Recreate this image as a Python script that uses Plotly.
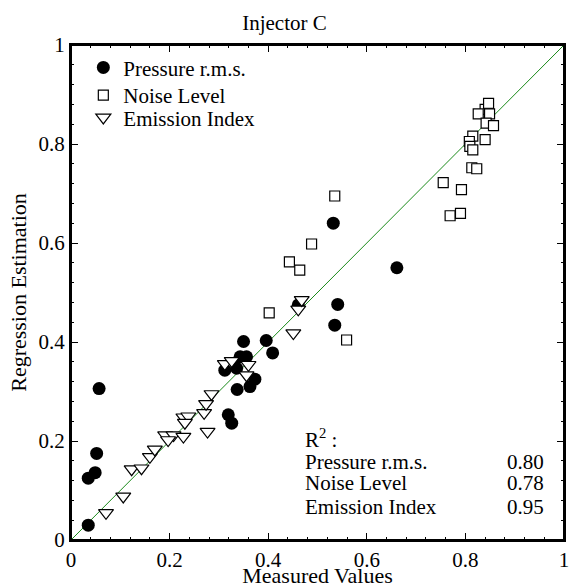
import plotly.graph_objects as go

# Pressure r.m.s. (filled circles)
pr_x = [0.035, 0.035, 0.049, 0.052, 0.057, 0.350, 0.396, 0.409, 0.343, 0.356, 0.312, 0.336,
        0.373, 0.363, 0.337, 0.319, 0.326, 0.532, 0.661, 0.541, 0.535, 0.461]
pr_y = [0.030, 0.125, 0.136, 0.175, 0.306, 0.401, 0.403, 0.378, 0.370, 0.370, 0.343, 0.347,
        0.325, 0.310, 0.304, 0.253, 0.236, 0.640, 0.550, 0.476, 0.434, 0.475]

# Noise Level (open squares)
nl_x = [0.535, 0.488, 0.443, 0.464, 0.559, 0.402,
        0.840, 0.847, 0.826, 0.849, 0.842, 0.857, 0.815, 0.808, 0.809, 0.815, 0.840,
        0.813, 0.823, 0.755, 0.792, 0.769, 0.790]
nl_y = [0.695, 0.598, 0.562, 0.545, 0.404, 0.459,
        0.870, 0.882, 0.861, 0.861, 0.842, 0.837, 0.816, 0.805, 0.795, 0.788, 0.809,
        0.752, 0.750, 0.722, 0.708, 0.655, 0.660]

# Emission Index (open triangles)
ei_x = [0.071, 0.106, 0.123, 0.143, 0.160, 0.170, 0.191, 0.208, 0.228, 0.197,
        0.228, 0.238, 0.231, 0.277, 0.270, 0.274, 0.285, 0.312, 0.326, 0.360,
        0.356, 0.451, 0.461, 0.468]
ei_y = [0.055, 0.088, 0.143, 0.145, 0.168, 0.183, 0.212, 0.212, 0.209, 0.202,
        0.248, 0.250, 0.237, 0.219, 0.257, 0.275, 0.295, 0.356, 0.362, 0.354,
        0.333, 0.418, 0.466, 0.485]

tick_vals = [0, 0.2, 0.4, 0.6, 0.8, 1]
tick_text = ["0", "0.2", "0.4", "0.6", "0.8", "1"]

r2_names = ["Pressure r.m.s.", "Noise Level", "Emission Index"]
r2_vals = ["0.80", "0.78", "0.95"]

FONT = "Liberation Serif, Times New Roman, serif"

fig = go.Figure()
fig.add_trace(go.Scatter(x=[0, 1], y=[0, 1], mode="lines",
                         line=dict(color="#1a8a1a", width=1), showlegend=False, hoverinfo="skip"))
fig.add_trace(go.Scatter(x=pr_x, y=pr_y, mode="markers", name="Pressure r.m.s.", legend="legend",
                         marker=dict(symbol="circle", size=13, color="black",
                                     line=dict(color="black", width=0))))
fig.add_trace(go.Scatter(x=nl_x, y=nl_y, mode="markers", name="Noise Level", legend="legend2",
                         marker=dict(symbol="square", size=10, color="white",
                                     line=dict(color="black", width=1.2))))
fig.add_trace(go.Scatter(x=ei_x, y=ei_y, mode="markers", name="Emission Index", legend="legend3",
                         marker=dict(symbol="triangle-down", size=13, color="white",
                                     line=dict(color="black", width=1.2))))

axis_common = dict(range=[0, 1], tickmode="array", tickvals=tick_vals, ticktext=tick_text,
                   ticks="inside", ticklen=7, tickwidth=1,
                   tickcolor="black", showline=True, linecolor="black", linewidth=2,
                   mirror="ticks", showgrid=False, zeroline=False, automargin=False,
                   ticklabeloverflow="allow",
                   tickfont=dict(size=21, color="black", family=FONT),
                   minor=dict(tickmode="linear", tick0=0, dtick=0.04, ticks="inside", ticklen=3,
                              tickcolor="black", showgrid=False))

fig.update_xaxes(**axis_common,
                 title=dict(text="Measured Values", font=dict(size=22, family=FONT, color="black"), standoff=2))
fig.update_yaxes(**axis_common,
                 title=dict(text="Regression Estimation", font=dict(size=22, family=FONT, color="black"), standoff=6))

annotations = [dict(x=0.47, y=0.206, xref="x", yref="y", text="R<sup>2</sup> :", showarrow=False,
                    xanchor="left", yanchor="middle", font=dict(size=21, family=FONT, color="black"))]
ys = [0.158, 0.115, 0.067]
for n, v, yy in zip(r2_names, r2_vals, ys):
    annotations.append(dict(x=0.47, y=yy, xref="x", yref="y", text=n, showarrow=False,
                            xanchor="left", yanchor="middle", font=dict(size=21, family=FONT, color="black")))
    annotations.append(dict(x=0.9635, y=yy, xref="x", yref="y", text=v, showarrow=False,
                            xanchor="right", yanchor="middle", font=dict(size=21, family=FONT, color="black")))

leg_common = dict(x=0.025, xanchor="left", yanchor="middle", bgcolor="rgba(0,0,0,0)",
                  font=dict(size=21, family=FONT, color="black"), itemsizing="trace")

fig.update_layout(
    width=569, height=588,
    margin=dict(l=71, r=5, t=45, b=48, autoexpand=False),
    paper_bgcolor="white", plot_bgcolor="white",
    title=dict(text="Injector C", x=0.5, xanchor="center", y=0.961, yanchor="middle",
               font=dict(size=21, family=FONT, color="black")),
    legend=dict(y=0.954, **leg_common),
    legend2=dict(y=0.898, **leg_common),
    legend3=dict(y=0.853, **leg_common),
    annotations=annotations,
    shapes=[dict(type="rect", xref="paper", yref="paper", x0=0, y0=0, x1=1, y1=1,
                 line=dict(color="black", width=2), fillcolor="rgba(0,0,0,0)", layer="above")],
    font=dict(family=FONT, color="black"),
)

fig.write_html("out.html", config={"displayModeBar": False},
               post_script="document.body.style.margin='0';document.body.style.overflow='hidden';")
